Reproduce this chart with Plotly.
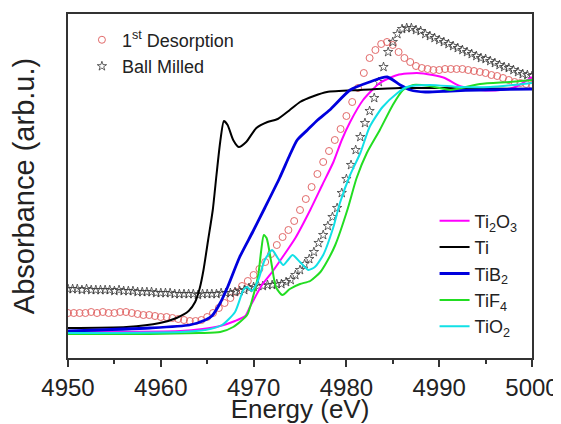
import numpy as np
import plotly.graph_objects as go

# ---------------- data (absorbance, arbitrary units) ----------------
# 1st Desorption (open circles), energies 4950..5000 eV in 0.625 eV steps
desorp_abs = [0.17, 0.17, 0.17, 0.17, 0.18, 0.17, 0.18, 0.17, 0.17, 0.18,
              0.18, 0.17, 0.16, 0.15, 0.15, 0.14, 0.13, 0.13, 0.12, 0.11,
              0.10, 0.09, 0.09, 0.10, 0.13, 0.17, 0.22, 0.27, 0.32, 0.38,
              0.44, 0.49, 0.55, 0.61, 0.68, 0.76, 0.85, 0.93, 1.00, 1.09,
              1.20, 1.31, 1.43, 1.56, 1.68, 1.79, 1.90, 2.01, 2.14, 2.28,
              2.42, 2.57, 2.72, 2.80, 2.86, 2.88, 2.85, 2.78, 2.72, 2.68,
              2.64, 2.62, 2.61, 2.60, 2.60, 2.61, 2.61, 2.61, 2.61, 2.60,
              2.59, 2.58, 2.57, 2.55, 2.54, 2.52, 2.50, 2.48, 2.47, 2.46,
              2.45]
desorp_energy = np.linspace(4950, 5000, len(desorp_abs))

# Ball Milled (open stars), energies 4950..5000 eV in 0.5 eV steps
milled_abs = [0.41, 0.41, 0.41, 0.40, 0.41, 0.40, 0.40, 0.40, 0.40, 0.40,
              0.39, 0.40, 0.39, 0.39, 0.39, 0.38, 0.38, 0.38, 0.38, 0.37,
              0.37, 0.37, 0.37, 0.36, 0.36, 0.36, 0.36, 0.36, 0.35, 0.36,
              0.36, 0.36, 0.36, 0.37, 0.37, 0.37, 0.38, 0.39, 0.40, 0.42,
              0.43, 0.44, 0.44, 0.45, 0.45, 0.46, 0.46, 0.48, 0.50, 0.55,
              0.60, 0.66, 0.71, 0.78, 0.87, 0.95, 1.04, 1.13, 1.22, 1.37,
              1.51, 1.65, 1.80, 1.93, 2.07, 2.19, 2.32, 2.48, 2.63, 2.78,
              2.88, 2.96, 3.01, 3.02, 3.02, 3.00, 2.99, 2.96, 2.94, 2.92,
              2.90, 2.88, 2.86, 2.84, 2.82, 2.80, 2.78, 2.76, 2.74, 2.72,
              2.71, 2.69, 2.67, 2.65, 2.63, 2.62, 2.60, 2.58, 2.56, 2.55,
              2.54]
milled_energy = np.linspace(4950, 5000, len(milled_abs))

ti2o3_energy = [4950, 4962.1, 4964.5, 4966.4, 4968.0, 4969.1, 4969.6, 4970.9, 4972.0,
                4973.2, 4974.5, 4976.1, 4977.4, 4978.6, 4979.5, 4980.4, 4981.8, 4983.6,
                4985.5, 4987.6, 4989.3, 4990.6, 4992.2, 4994.4, 4996.6, 4998.2, 5000]
ti2o3_abs = [-0.02, -0.01, 0.01, 0.04, 0.09, 0.14, 0.23, 0.45, 0.58,
             0.74, 0.92, 1.20, 1.45, 1.68, 1.90, 2.08, 2.30, 2.47,
             2.55, 2.57, 2.55, 2.52, 2.44, 2.40, 2.40, 2.43, 2.53]

ti_energy = [4950, 4956.3, 4959.9, 4961.7, 4963.0, 4963.7, 4964.2, 4964.6, 4965.1,
             4965.6, 4966.0, 4966.4, 4966.8, 4967.2, 4967.8, 4968.4, 4969.2, 4970.3,
             4971.5, 4972.6, 4973.9, 4975.0, 4976.5, 4977.9, 4981.5, 4985.8, 4990.0, 5000]
ti_abs = [0.02, 0.03, 0.07, 0.12, 0.19, 0.28, 0.42, 0.60, 0.90,
          1.20, 1.55, 1.88, 2.09, 2.05, 1.90, 1.83, 1.88, 2.02,
          2.08, 2.11, 2.20, 2.28, 2.34, 2.38, 2.40, 2.42, 2.42, 2.41]

tib2_energy = [4950, 4958.8, 4963.1, 4964.8, 4965.5, 4966.4, 4967.2, 4968.5, 4969.9,
               4971.2, 4972.8, 4973.9, 4974.7, 4975.8, 4976.9, 4978.2, 4980.4, 4982.5,
               4984.4, 4985.8, 4986.9, 4988.5, 4991.2, 4994.4, 5000]
tib2_abs = [-0.01, 0.02, 0.05, 0.10, 0.14, 0.27, 0.43, 0.73, 0.98,
            1.22, 1.52, 1.75, 1.90, 2.00, 2.10, 2.20, 2.40, 2.48,
            2.53, 2.45, 2.40, 2.38, 2.39, 2.40, 2.41]

tif4_energy = [4950, 4958.8, 4964.2, 4966.4, 4967.8, 4969.3, 4969.9, 4970.5, 4970.8,
               4971.1, 4971.4, 4971.9, 4972.4, 4973.1, 4973.9, 4975.0, 4976.1, 4977.2,
               4978.0, 4978.8, 4980.1, 4981.1, 4982.2, 4983.6, 4985.0, 4986.1, 4987.2,
               4989.0, 4991.2, 4994.4, 4997.6, 5000]
tif4_abs = [-0.04, -0.04, -0.03, -0.02, 0.03, 0.15, 0.32, 0.55, 0.78,
            0.95, 0.92, 0.68, 0.43, 0.35, 0.41, 0.46, 0.49, 0.58,
            0.70, 0.85, 1.20, 1.52, 1.77, 2.00, 2.25, 2.40, 2.45,
            2.44, 2.40, 2.46, 2.48, 2.50]

tio2_energy = [4950, 4962.1, 4964.8, 4966.6, 4968.0, 4968.9, 4969.3, 4969.8, 4970.5,
               4971.2, 4972.0, 4972.6, 4973.2, 4973.7, 4974.2, 4975.0, 4975.9, 4976.6,
               4977.5, 4978.6, 4979.3, 4980.4, 4981.5, 4982.5, 4983.9, 4985.5, 4986.5,
               4989.0, 4992.2, 4995.5, 5000]
tio2_abs = [-0.03, -0.02, 0.00, 0.05, 0.18, 0.40, 0.43, 0.39, 0.50,
            0.70, 0.80, 0.72, 0.65, 0.70, 0.75, 0.68, 0.60, 0.63,
            0.75, 1.03, 1.27, 1.55, 1.77, 2.03, 2.23, 2.37, 2.43,
            2.45, 2.43, 2.43, 2.47]

x_ticks = [4950, 4960, 4970, 4980, 4990, 5000]

FONT = "Liberation Sans, Arial, sans-serif"

fig = go.Figure()

# marker series (legend 1, top-left)
fig.add_trace(go.Scatter(
    x=desorp_energy, y=desorp_abs, mode="markers", name="1<sup>st</sup> Desorption",
    marker=dict(symbol="circle-open", size=7, color="#e26a6a", line=dict(width=1)),
    legend="legend"))
fig.add_trace(go.Scatter(
    x=milled_energy, y=milled_abs, mode="markers", name="Ball Milled",
    marker=dict(symbol="star-open", size=7, color="#3a3a3a", line=dict(width=0.8)),
    legend="legend"))

# line series (legend 2, bottom-right)
line_series = [
    ("Ti<sub>2</sub>O<sub>3</sub>", ti2o3_energy, ti2o3_abs, "#ff00ff", 2),
    ("Ti", ti_energy, ti_abs, "#000000", 2),
    ("TiB<sub>2</sub>", tib2_energy, tib2_abs, "#0000dd", 2.8),
    ("TiF<sub>4</sub>", tif4_energy, tif4_abs, "#22dd22", 2),
    ("TiO<sub>2</sub>", tio2_energy, tio2_abs, "#11e0e6", 2),
]
for name, ex, ab, col, w in line_series:
    fig.add_trace(go.Scatter(
        x=ex, y=ab, mode="lines", name=name,
        line=dict(color=col, width=w, shape="spline", smoothing=0.6),
        legend="legend2"))

# the page body adds an 8 px offset, so the figure is 8 px smaller on each axis
fig.update_layout(
    width=553, height=416,
    margin=dict(l=60, r=29, t=6, b=66),
    paper_bgcolor="white", plot_bgcolor="white",
    font=dict(family=FONT, color="#222222"),
    showlegend=True,
    legend=dict(x=0.03, y=0.978, xanchor="left", yanchor="top",
                bgcolor="rgba(0,0,0,0)", font=dict(size=18, family=FONT, color="#222222"),
                tracegroupgap=0),
    legend2=dict(x=0.79, y=0.452, xanchor="left", yanchor="top",
                 bgcolor="rgba(0,0,0,0)", font=dict(size=18, family=FONT, color="#222222")),
)

fig.update_xaxes(
    range=[4950, 5000], tickvals=x_ticks, ticktext=[str(t) for t in x_ticks],
    ticks="outside", ticklen=7, tickwidth=1.5, tickcolor="#333333",
    minor=dict(dtick=5, tick0=4950, ticks="outside", ticklen=4, tickwidth=1.5, tickcolor="#333333"),
    showline=True, linecolor="#333333", linewidth=1.6, mirror=True,
    showgrid=False, zeroline=False, automargin=False,
    tickfont=dict(size=24, family=FONT, color="#222222"),
    title=dict(text="Energy (eV)", font=dict(size=26, family=FONT, color="#222222"), standoff=17),
)
fig.update_yaxes(
    range=[-0.28, 3.16], showticklabels=False, ticks="",
    showline=True, linecolor="#333333", linewidth=1.6, mirror=True,
    showgrid=False, zeroline=False, automargin=False,
    title=dict(text="Absorbance (arb.u.)", font=dict(size=29, family=FONT, color="#222222"), standoff=28),
)

fig.write_html("out.html")
